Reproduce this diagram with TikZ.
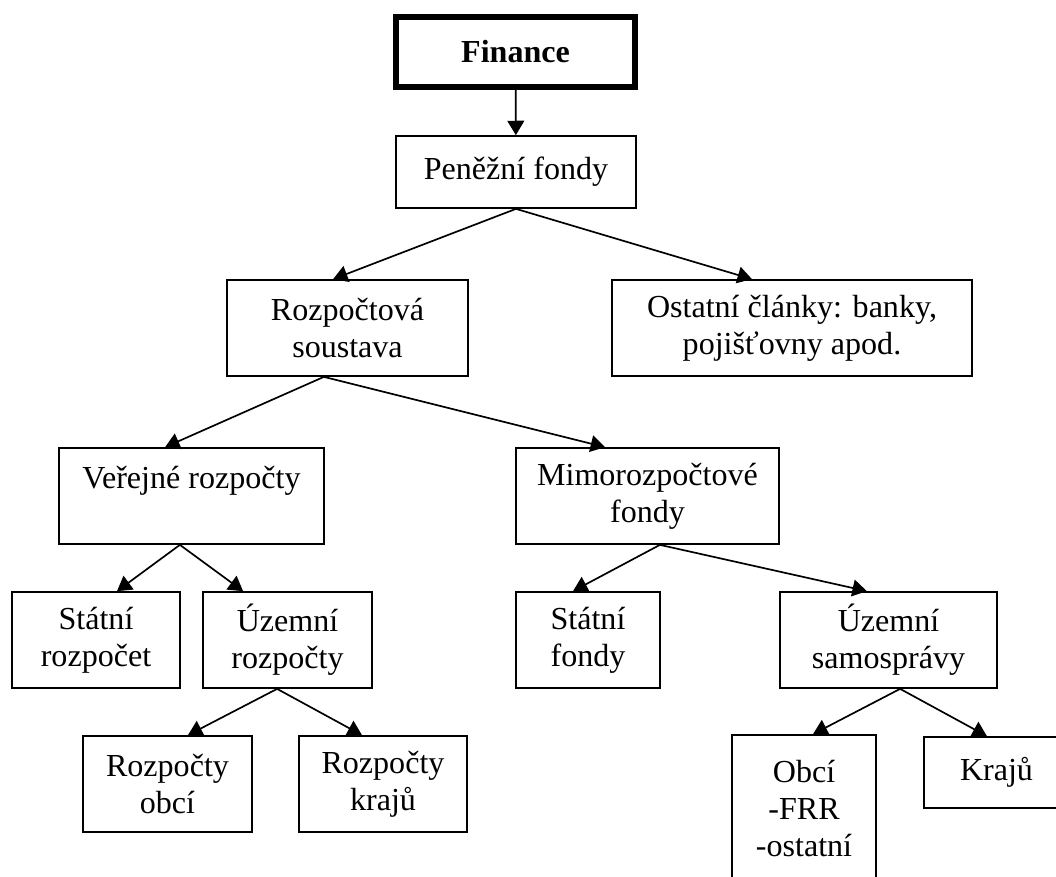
\documentclass[tikz,border=0pt]{standalone}
\usepackage{fontspec}
\setmainfont{Liberation Serif}
\usetikzlibrary{arrows.meta}
\tikzset{
    titlebox/.style={rectangle, draw=black, line width=4.2pt, align=center, inner sep=0pt,
                     font=\fontsize{22.8}{26.5}\selectfont\bfseries},
    fundbox/.style={rectangle, draw=black, line width=1.2pt, align=center, inner sep=0pt,
                    minimum height=2.4cm, font=\fontsize{22.8}{26.5}\selectfont},
    arrow/.style={-{Triangle[length=3.6mm, width=4.2mm]}, line width=1.2pt, black},
}
\begin{document}
\begin{tikzpicture}[x=0.025cm, y=-0.025cm]
            \useasboundingbox (0,0) rectangle (1056,876);
            \node[titlebox, minimum width=5.975cm, minimum height=1.75cm] (fin) at (515.5, 52) {Finance};
            \node[fundbox, minimum width=6cm, minimum height=1.8cm] (pen) at (516, 172) {Peněžní fondy};
            \node[fundbox, minimum width=6.025cm] (roz) at (347.5, 328) {Rozpočtová\\soustava};
            \node[fundbox, minimum width=9cm] (ost) at (792, 328) {Ostatní články: banky,\\pojišťovny apod.};
            \node[fundbox, minimum width=6.625cm] (ver) at (191.5, 496) {Veřejné rozpočty\\~};
            \node[fundbox, minimum width=6.575cm] (mim) at (647.5, 496) {Mimorozpočtové\\fondy};
            \node[fundbox, minimum width=4.2cm] (str) at (96, 640) {Státní\\rozpočet};
            \node[fundbox, minimum width=4.225cm] (uzr) at (287.5, 640) {Územní\\rozpočty};
            \node[fundbox, minimum width=4.225cm] (obc) at (167.5, 784) {Rozpočty\\obcí};
            \node[fundbox, minimum width=4.2cm] (kra) at (383, 784) {Rozpočty\\krajů};
            \node[fundbox, minimum width=3.6cm] (stf) at (588, 640) {Státní\\fondy};
            \node[fundbox, minimum width=5.425cm] (uzs) at (888.5, 640) {Územní\\samosprávy};
            \node[fundbox, minimum width=3.6cm, minimum height=3.675cm] (obf) at (804, 808.5) {Obcí\\-FRR\\-ostatní};
            \node[fundbox, minimum width=3.625cm, minimum height=1.775cm] (krj) at (996.5, 772.5) {Krajů};
            
            \draw[arrow] (fin) -- (pen);
            \draw[arrow] (pen.south) -- ([xshift=-0.36cm]roz.north);
            \draw[arrow] (pen.south) -- ([xshift=-1cm]ost.north);
            \draw[arrow] ([xshift=-0.59cm]roz.south) -- ([xshift=-0.66cm]ver.north);
            \draw[arrow] ([xshift=-0.59cm]roz.south) -- ([xshift=-1.06cm]mim.north);
            \draw[arrow] ([xshift=-0.29cm]ver.south) -- ([xshift=0.525cm]str.north);
            \draw[arrow] ([xshift=-0.29cm]ver.south) -- ([xshift=-1.11cm]uzr.north);
            \draw[arrow] ([xshift=-0.26cm]uzr.south) -- ([xshift=0.51cm]obc.north);
            \draw[arrow] ([xshift=-0.26cm]uzr.south) -- ([xshift=-0.525cm]kra.north);
            \draw[arrow] ([xshift=0.31cm]mim.south) -- ([xshift=-0.375cm]stf.north);
            \draw[arrow] ([xshift=0.31cm]mim.south) -- ([xshift=-0.54cm]uzs.north);
            \draw[arrow] ([xshift=0.29cm]uzs.south) -- ([xshift=0.225cm]obf.north);
            \draw[arrow] ([xshift=0.29cm]uzs.south) -- ([xshift=-0.24cm]krj.north);
        \end{tikzpicture}
\end{document}
